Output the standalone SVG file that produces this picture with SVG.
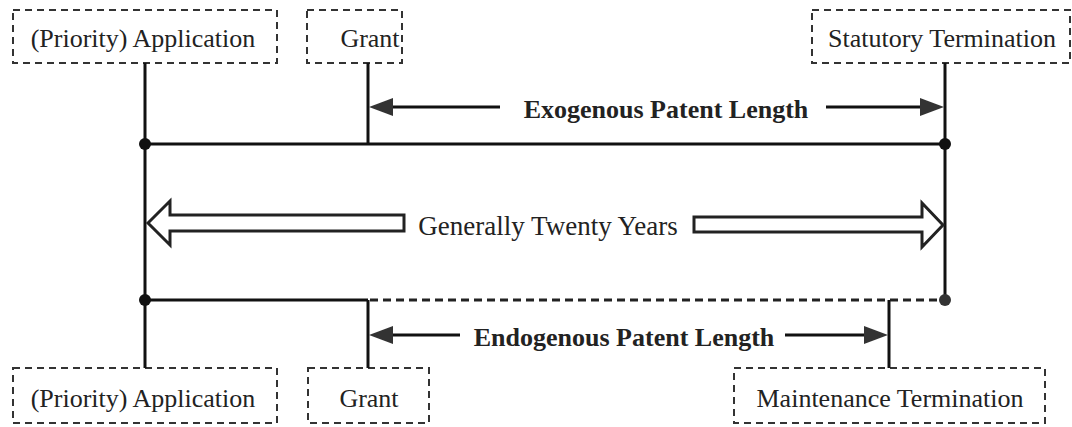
<svg xmlns="http://www.w3.org/2000/svg" width="1072" height="427" viewBox="0 0 1072 427">
  <style>
    .box { fill: #fff; stroke: #333; stroke-width: 2; stroke-dasharray: 7 5; }
    .lbl { font-family: "Liberation Serif", "Times New Roman", serif; font-size: 26px; fill: #222; text-anchor: middle; }
    .bold { font-weight: bold; }
    .line { stroke: #111; stroke-width: 3; fill: none; }
    .dash { stroke: #222; stroke-width: 3; fill: none; stroke-dasharray: 8 5; }
    .head { fill: #333; }
    .block { fill: #fff; stroke: #222; stroke-width: 3; stroke-linejoin: miter; }
  </style>

  <!-- event boxes, top row -->
  <g id="top-application">
    <rect class="box" x="13" y="10" width="264" height="53"/>
    <text class="lbl" x="143" y="47">(Priority) Application</text>
  </g>
  <g id="top-grant">
    <rect class="box" x="307" y="10" width="95" height="53"/>
    <text class="lbl" x="370" y="47">Grant</text>
  </g>
  <g id="top-statutory">
    <rect class="box" x="812" y="10" width="258" height="53"/>
    <text class="lbl" x="942" y="47">Statutory Termination</text>
  </g>

  <!-- event boxes, bottom row -->
  <g id="bottom-application">
    <rect class="box" x="13" y="368" width="264" height="55"/>
    <text class="lbl" x="143" y="407">(Priority) Application</text>
  </g>
  <g id="bottom-grant">
    <rect class="box" x="308" y="368" width="121" height="55"/>
    <text class="lbl" x="369" y="407">Grant</text>
  </g>
  <g id="bottom-maintenance">
    <rect class="box" x="734" y="368" width="311" height="55"/>
    <text class="lbl" x="890" y="407">Maintenance Termination</text>
  </g>

  <!-- timeline connectors -->
  <g id="connectors">
    <!-- verticals -->
    <line class="line" x1="145" y1="63" x2="145" y2="368"/>
    <line class="line" x1="368" y1="63" x2="368" y2="144"/>
    <line class="line" x1="945" y1="63" x2="945" y2="300"/>
    <line class="line" x1="368" y1="300" x2="368" y2="368"/>
    <line class="line" x1="889" y1="300" x2="889" y2="368"/>

    <!-- statutory term line -->
    <line class="line" x1="145" y1="144" x2="945" y2="144"/>
    <!-- maintained term line -->
    <line class="line" x1="145" y1="300" x2="368" y2="300"/>
    <line class="dash" x1="370" y1="300" x2="945" y2="300"/>

    <!-- junction dots -->
    <circle cx="145" cy="144" r="6" fill="#111"/>
    <circle cx="945" cy="144" r="6" fill="#111"/>
    <circle cx="145" cy="300" r="6" fill="#111"/>
    <circle cx="945" cy="300" r="6" fill="#333"/>

    <!-- exogenous length arrows -->
    <line class="line" x1="390" y1="107" x2="500" y2="107"/>
    <polygon class="head" points="369,107 393,98 393,116"/>
    <line class="line" x1="826" y1="107" x2="924" y2="107"/>
    <polygon class="head" points="944,107 920,98 920,116"/>

    <!-- endogenous length arrows -->
    <line class="line" x1="390" y1="335" x2="460" y2="335"/>
    <polygon class="head" points="369,335 393,326 393,344"/>
    <line class="line" x1="785" y1="335" x2="868" y2="335"/>
    <polygon class="head" points="888,335 864,326 864,344"/>

    <!-- twenty-year block arrows -->
    <polygon class="block" points="148,223 170,201 170,215 404,215 404,231 170,231 170,245"/>
    <polygon class="block" points="943,225 922,203 922,217 694,217 694,232 922,232 922,247"/>
  </g>

  <!-- span labels -->
  <text class="lbl bold" x="666" y="118">Exogenous Patent Length</text>
  <text class="lbl bold" x="624" y="346">Endogenous Patent Length</text>
  <text class="lbl" x="548" y="235" style="font-size:27px">Generally Twenty Years</text>
</svg>
